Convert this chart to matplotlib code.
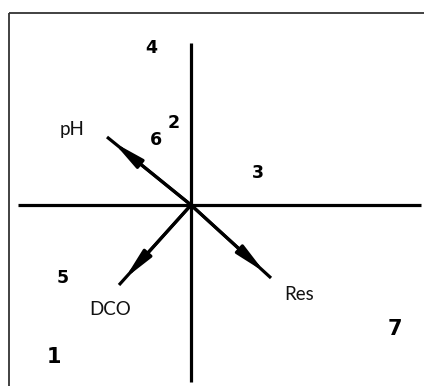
import matplotlib.pyplot as plt
from matplotlib.patches import FancyArrowPatch


# ordination scores (axis units, origin at the cross)
SITE_LABELS = ["1", "2", "3", "4", "5", "6", "7"]
SITE_X = [-3.425, -0.425, 1.675, -1.0, -3.2, -0.875, 5.1]
SITE_Y = [-3.95, 1.925, 0.675, 3.8, -1.95, 1.5, -3.25]

VAR_LABELS = ["pH", "DCO", "Res"]
VAR_X = [-2.1, -1.8, 2.0]
VAR_Y = [1.7, -2.0, -1.825]
VAR_LABEL_X = [-2.975, -2.025, 2.7]
VAR_LABEL_Y = [1.75, -2.75, -2.375]

AXIS_X_RANGE = (-4.325, 5.75)
AXIS_Y_RANGE = (-4.425, 4.05)

BIG_SITES = ("1", "7")
HEAD_AT = 0.92


fig = plt.figure(figsize=(4.24, 3.86), dpi=100)
ax = fig.add_axes([0, 0, 1, 1])
ax.set_xlim(-4.775, 5.825)
ax.set_ylim(-4.525, 5.125)
ax.axis("off")

# outer frame (only left and top edges are inside the picture)
frame_x, frame_y = -4.5625, 4.8125
ax.plot([frame_x, frame_x], [frame_y, -6], color="#333333", lw=1.3, solid_capstyle="butt")
ax.plot([frame_x, 7], [frame_y, frame_y], color="#333333", lw=1.3, solid_capstyle="butt")

# the cross
ax.plot(AXIS_X_RANGE, [0, 0], color="black", lw=2.3, solid_capstyle="butt")
ax.plot([0, 0], AXIS_Y_RANGE, color="black", lw=2.3, solid_capstyle="butt")

# environmental vectors
for label, vx, vy, lx, ly in zip(VAR_LABELS, VAR_X, VAR_Y, VAR_LABEL_X, VAR_LABEL_Y):
    ax.plot([0, vx], [0, vy], color="black", lw=2.3, solid_capstyle="butt")
    head = FancyArrowPatch(
        (0, 0),
        (vx * HEAD_AT, vy * HEAD_AT),
        arrowstyle="-|>,head_length=1.8,head_width=0.32",
        mutation_scale=10,
        color="black",
        lw=2.3,
        shrinkA=0,
        shrinkB=0,
    )
    ax.add_patch(head)
    ax.text(lx, ly, label, ha="center", va="baseline", fontsize=13.5,
            family=["Lato", "DejaVu Sans"], color="#111111")

# site numbers
for label, sx, sy in zip(SITE_LABELS, SITE_X, SITE_Y):
    size = 15 if label in BIG_SITES else 12.5
    ax.text(sx, sy, label, ha="center", va="baseline", fontsize=size,
            fontweight="bold", family=["DejaVu Sans"])

fig.savefig("out.png", dpi=100)
